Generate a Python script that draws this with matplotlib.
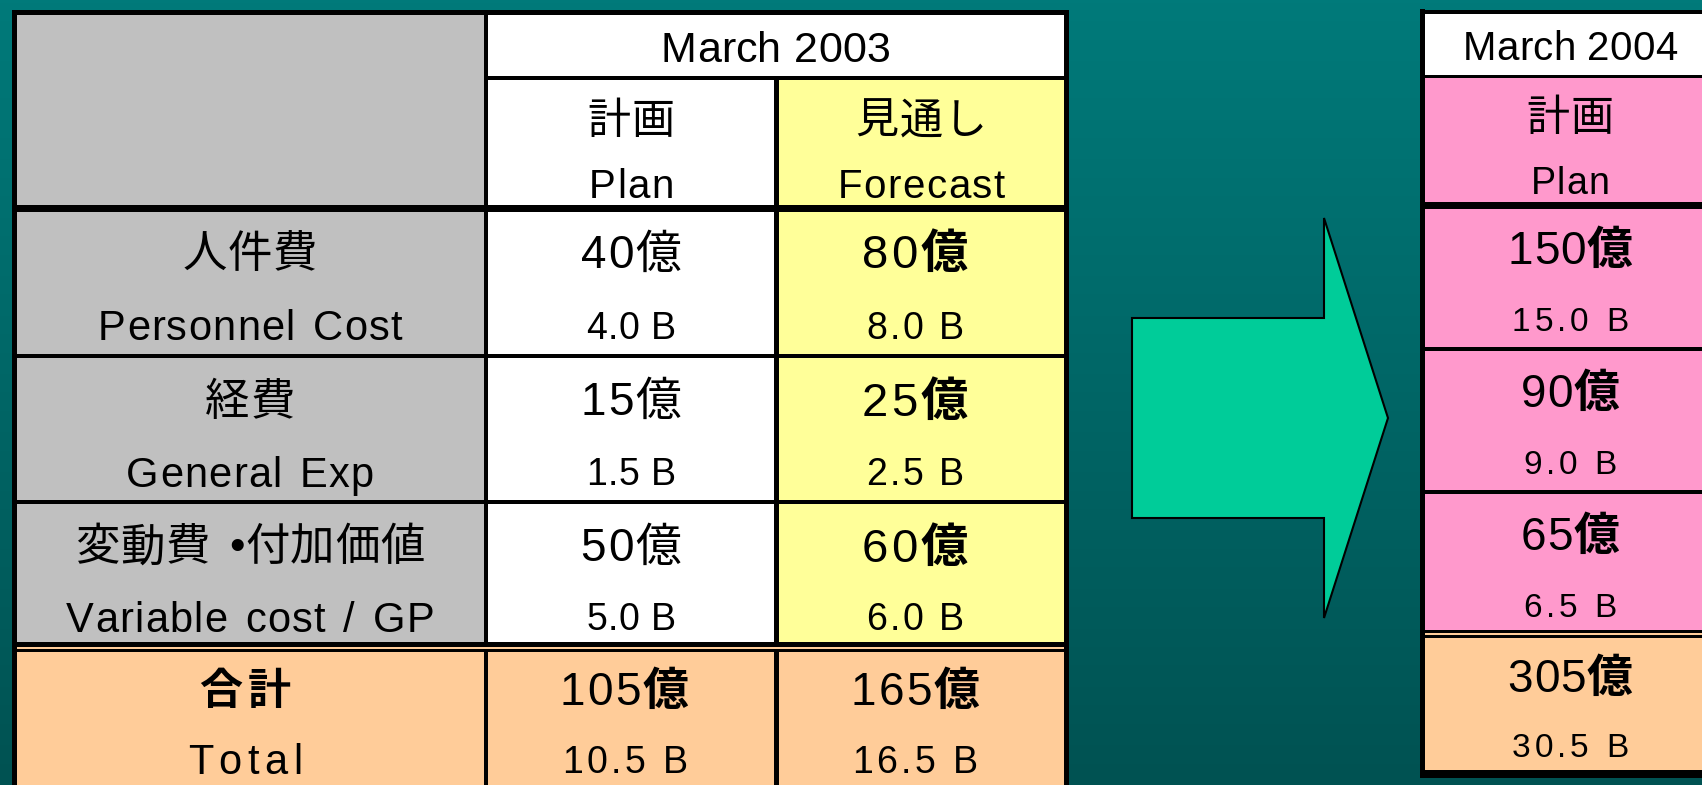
import numpy as np
import matplotlib.pyplot as plt
from matplotlib.patches import Rectangle, Polygon
from matplotlib.colors import LinearSegmentedColormap
from matplotlib import font_manager
from matplotlib.ft2font import FT2Font

LATIN = "Liberation Sans"
CJK = "Noto Sans CJK JP"

# values in 億 (100 million yen)
items_jp = ["人件費", "経費", "変動費 •付加価値"]
items_en = ["Personnel Cost", "General Exp", "Variable cost / GP"]
plan_2003 = [40, 15, 50]
forecast_2003 = [80, 25, 60]
plan_2004 = [150, 90, 65]
total_jp = "合計"
total_en = "Total"
periods = ["March 2003", "March 2004"]
cols_jp = ["計画", "見通し"]
cols_en = ["Plan", "Forecast"]
unit = "億"

W, H, DPI = 1702, 785, 100

# layout (pixels)
T1_COLS = [13, 485, 776, 1066]
T1_ROWS = [12, 77, 208, 356, 502, 647, 785]
T2_X0, T2_X1 = 1422, 1720
T2_ROWS = [11, 76, 205, 349, 492, 634, 774]
LABEL_X = 250
PLAN_X = 631
FCST_X = 915
T2_X = 1570

GRAY = "#c0c0c0"
YELLOW = "#ffff99"
ORANGE = "#ffcc99"
PINK = "#ff99cc"
ARROW = "#00cc99"

fig = plt.figure(figsize=(W / DPI, H / DPI), dpi=DPI)
ax = fig.add_axes([0, 0, 1, 1])
ax.set_xlim(0, W)
ax.set_ylim(H, 0)
ax.axis("off")

# teal gradient background
bg = LinearSegmentedColormap.from_list("bg", ["#007a7a", "#005252"])
ax.imshow(np.linspace(0, 1, 256).reshape(-1, 1), cmap=bg, aspect="auto",
          extent=[0, W, H, 0], zorder=0)


def box(x0, y0, x1, y1, color):
    ax.add_patch(Rectangle((x0, y0), x1 - x0, y1 - y0, facecolor=color,
                           edgecolor="none", zorder=1))


def hline(y, x0, x1, w, color="black"):
    ax.add_patch(Rectangle((x0, y - w / 2), x1 - x0, w, facecolor=color,
                           edgecolor="none", zorder=2))


def vline(x, y0, y1, w, color="black"):
    ax.add_patch(Rectangle((x - w / 2, y0), w, y1 - y0, facecolor=color,
                           edgecolor="none", zorder=2))


_fonts = {}


def get_font(family, weight, size):
    key = (family, weight)
    if key not in _fonts:
        path = font_manager.findfont(
            font_manager.FontProperties(family=family, weight=weight))
        _fonts[key] = FT2Font(path)
    f = _fonts[key]
    f.set_size(size, DPI)
    return f


def draw_line(x, yc, chunks, track=0.0, space=0.0):
    # chunks: (text, size, weight); letters placed one by one for tracking
    glyphs = []
    for s, size, weight in chunks:
        for ch in s:
            fam = CJK if ord(ch) > 0x2E80 else LATIN
            g = get_font(fam, weight, size).load_char(ord(ch))
            adv = g.linearHoriAdvance / 65536
            if ch == " ":
                adv += space
            glyphs.append((ch, fam, size, weight, adv))
    total = sum(g[4] for g in glyphs) + track * (len(glyphs) - 1)
    em = max(g[2] for g in glyphs) * DPI / 72
    base = yc + 0.37 * em
    pen = x - total / 2
    for ch, fam, size, weight, adv in glyphs:
        if ch != " ":
            ax.text(pen, base, ch, family=fam, fontsize=size, fontweight=weight,
                    ha="left", va="baseline", color="black", zorder=3)
        pen += adv + track


def value_line(x, yc, v, size, track, bold_unit):
    draw_line(x, yc, [(str(v), size, "normal"),
                      (unit, size, "bold" if bold_unit else "normal")], track)


def b_line(x, yc, v, size, track):
    draw_line(x, yc, [(f"{v / 10:.1f} B", size, "normal")], track)


# ---- left table (March 2003) ----
c0, c1, c2, c3 = T1_COLS
r = T1_ROWS
box(c0, r[0], c1, r[5], GRAY)
box(c1, r[0], c3, r[1], "white")
box(c1, r[1], c2, r[5], "white")
box(c2, r[1], c3, r[5], YELLOW)
box(c0, r[5], c3, r[6], ORANGE)

vline(c0 + 1.5, r[0] - 2, H, 5)
vline(c3, r[0] - 2, H, 5)
vline(c1 + 0.5, r[0], H, 4)
vline(c2, r[1], H, 5)
hline(r[0] + 0.5, c0, c3 + 2, 5)
hline(r[1] + 0.5, c1, c3, 4)
hline(r[2] + 0.5, c0, c3 + 2, 7)
hline(r[3], c0, c3, 4)
hline(r[4], c0, c3, 4)
hline(r[5], c0, c3 + 2, 10)
hline(r[5] + 0.5, c0 + 4, c3 - 2, 2, ORANGE)

draw_line((c1 + c3) / 2, (r[0] + r[1]) / 2 + 2, [(periods[0], 31, "normal")], 0.3)
hh = r[2] - r[1]
for x, jp, en in zip([PLAN_X, (c2 + c3) / 2], cols_jp, cols_en):
    draw_line(x, r[1] + 0.31 * hh, [(jp, 31, "normal")], 1)
    draw_line(x, r[1] + 0.81 * hh, [(en, 29, "normal")], 1.5)

for i in range(len(items_jp)):
    yt, yb = r[2 + i], r[3 + i]
    y1, y2 = yt + 0.29 * (yb - yt), yt + 0.79 * (yb - yt)
    draw_line(LABEL_X, y1, [(items_jp[i], 32, "normal")], 0.5, 6)
    draw_line(LABEL_X, y2, [(items_en[i], 30, "normal")], 1.2, 4)
    value_line(PLAN_X, y1, plan_2003[i], 33, 2, False)
    b_line(PLAN_X, y2, plan_2003[i], 27, 0.5)
    value_line(FCST_X, y1, forecast_2003[i], 34, 3, True)
    b_line(FCST_X, y2, forecast_2003[i], 27, 2.4)

yt, yb = r[5], r[6]
y1, y2 = yt + 0.3 * (yb - yt), yt + 0.81 * (yb - yt)
draw_line(LABEL_X - 5, y1, [(total_jp, 31, "bold")], 6)
draw_line(LABEL_X - 5, y2, [(total_en, 30, "normal")], 5.5)
value_line(PLAN_X - 7, y1, sum(plan_2003), 33, 2.3, True)
b_line(PLAN_X - 6, y2, sum(plan_2003), 27, 3.4)
value_line(FCST_X, y1, sum(forecast_2003), 33, 2.3, True)
b_line(FCST_X, y2, sum(forecast_2003), 27, 3.4)

# ---- arrow ----
ax.add_patch(Polygon([(1132, 318), (1324, 318), (1324, 218), (1388, 418),
                      (1324, 618), (1324, 518), (1132, 518)], closed=True,
                     facecolor=ARROW, edgecolor="black", linewidth=1.5, zorder=2))

# ---- right table (March 2004) ----
q = T2_ROWS
box(T2_X0, q[0], T2_X1, q[1], "white")
box(T2_X0, q[1], T2_X1, q[5], PINK)
box(T2_X0, q[5], T2_X1, q[6], ORANGE)
vline(T2_X0, q[0] - 2, q[6] + 4, 5)
hline(q[0] + 0.5, T2_X0, T2_X1, 4)
hline(q[1], T2_X0, T2_X1, 3)
hline(q[2], T2_X0, T2_X1, 7)
hline(q[3], T2_X0, T2_X1, 4)
hline(q[4], T2_X0, T2_X1, 4)
hline(q[5], T2_X0, T2_X1, 8)
hline(q[5], T2_X0 + 3, T2_X1, 2, ORANGE)
hline(q[6], T2_X0, T2_X1, 8)

draw_line(T2_X, (q[0] + q[1]) / 2 + 2, [(periods[1], 29, "normal")], 0.2)
hh = q[2] - q[1]
draw_line(T2_X, q[1] + 0.30 * hh, [(cols_jp[0], 31, "normal")], 1)
draw_line(T2_X, q[1] + 0.81 * hh, [(cols_en[0], 27, "normal")], 1)
for i in range(len(plan_2004)):
    yt, yb = q[2 + i], q[3 + i]
    value_line(T2_X, yt + 0.29 * (yb - yt), plan_2004[i], 33, 1, True)
    b_line(T2_X, yt + 0.79 * (yb - yt), plan_2004[i], 24, 4)
yt, yb = q[5], q[6]
value_line(T2_X, yt + 0.29 * (yb - yt), sum(plan_2004), 33, 1, True)
b_line(T2_X, yt + 0.79 * (yb - yt), sum(plan_2004), 24, 4)

fig.savefig("out.png", dpi=DPI)
